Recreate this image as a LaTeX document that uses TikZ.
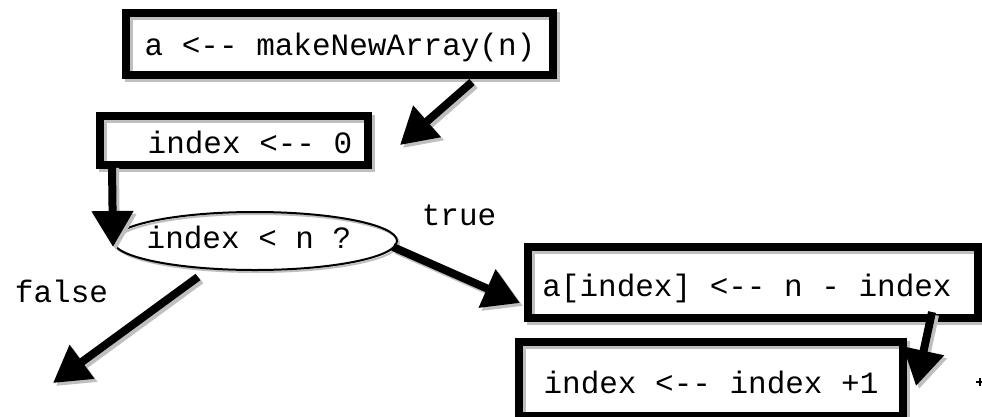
\documentclass[tikz,border=0pt]{standalone}
\usepackage{fontspec}
\setmonofont{Liberation Mono}
\usetikzlibrary{arrows.meta,shapes.geometric,calc,shadows}
\definecolor{shd}{gray}{0.75}
\tikzset{
  boxnode/.style={rectangle, draw=black, line width=8.5pt, inner sep=0pt, outer sep=0pt,
    general shadow={shadow xshift=3pt, shadow yshift=-3pt, draw=shd}},
  condnode/.style={ellipse, draw=black, line width=2pt, inner sep=0pt, outer sep=0pt,
    general shadow={shadow xshift=2pt, shadow yshift=-2pt, draw=shd}},
  lbl/.style={anchor=base, inner sep=0pt, font=\ttfamily\fontsize{31}{31}\selectfont},
  arr/.style={line width=8pt, draw=black, -{Triangle[length=36pt,width=40pt]}},
  arrsh/.style={arr, draw=shd, color=shd, transform canvas={xshift=3pt,yshift=-3pt}}
}
\begin{document}
\begin{tikzpicture}[x=1pt,y=-1pt]
\useasboundingbox (0,0) rectangle (982,416);
\clip (0,0) rectangle (982,416);
% boxes
\node[boxnode, minimum width=427pt, minimum height=62pt] (b1) at (339.5,44) {};
\node[boxnode, minimum width=268pt, minimum height=49pt] (b2) at (234,140.5) {};
\node[condnode, minimum width=284pt, minimum height=58pt] (e) at (255,241) {};
\node[boxnode, minimum width=450pt, minimum height=71pt] (b3) at (753,282.5) {};
\node[boxnode, minimum width=384pt, minimum height=74pt] (b4) at (711,379) {};
% texts
\node[lbl] (t1) at (340,55) {a <-{}- makeNewArray(n)};
\node[lbl] (t2) at (250,153) {index <-{}- 0};
\node[lbl] (te) at (249,248) {index < n ?};
\node[lbl] (ttrue) at (459,225) {true};
\node[lbl] (tfalse) at (61.5,302) {false};
\node[lbl] (t3) at (747,296) {a[index] <-{}- n - index};
\node[lbl] (t4) at (711,393) {index <-{}- index +1};
% connector end points
\coordinate (a1s) at ($(b1.south east)+(-81,7)$);
\coordinate (a1e) at ($(b2.east)+(32,4.5)$);
\coordinate (a2s) at ($(b2.south west)+(12,0)$);
\coordinate (a2e) at ($(e.west)+(0,6)$);
\coordinate (a3s) at ($(e.east)+(-4,6)$);
\coordinate (a3e) at ($(b3.west)+(-8,20.5)$);
\coordinate (a4s) at ($(e.south)+(-57,7)$);
\coordinate (a4e) at (53,383);
\coordinate (a5s) at ($(b3.south east)+(-46,-6)$);
\coordinate (a5e) at ($(b4.east)+(13,7)$);
% shadows of connectors
\draw[arrsh] (a1s) -- (a1e);
\draw[arrsh] (a2s) -- (a2e);
\draw[arrsh] (a3s) -- (a3e);
\draw[arrsh] (a4s) -- (a4e);
\draw[arrsh] (a5s) -- (a5e);
% connectors
\draw[arr] (a1s) -- (a1e);
\draw[arr] (a2s) -- (a2e);
\draw[arr] (a3s) -- (a3e);
\draw[arr] (a4s) -- (a4e);
\draw[arr] (a5s) -- (a5e);
% cut-off stub at right edge
\draw[line width=2.5pt] (976,382) -- (982,382);
\draw[line width=2pt] (980,378) -- (980,386);
\end{tikzpicture}
\end{document}
